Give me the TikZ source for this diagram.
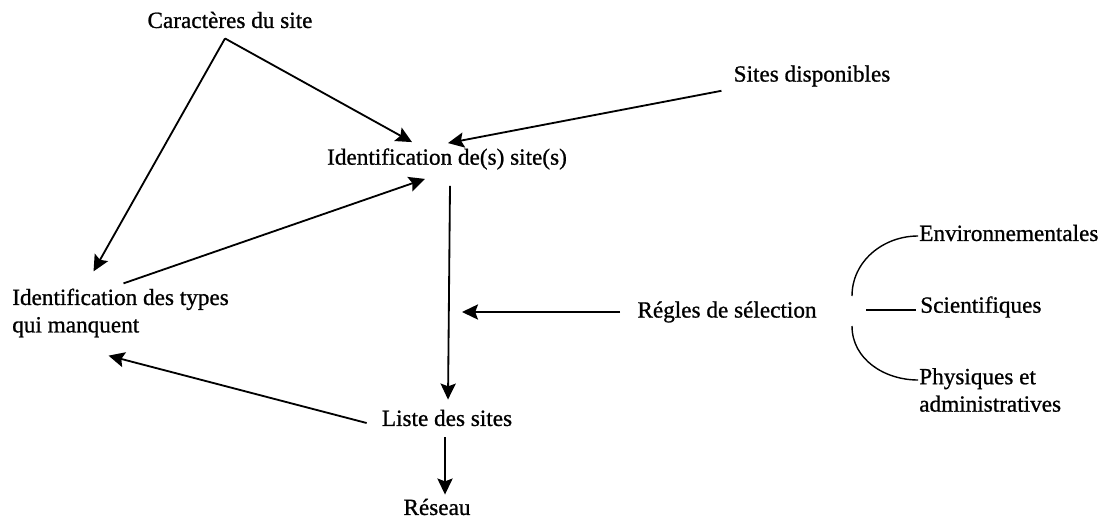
\documentclass[tikz,border=0pt]{standalone}
\usepackage{fontspec}
\setmainfont{Liberation Serif}[FakeBold=0.9]
\usepackage{tikz}
\usetikzlibrary{positioning,arrows.meta}
\tikzset{main node/.style={inner sep=0pt,font=\fontsize{16.5}{19.5}\selectfont},
flow/.style={line width=1.3pt,-{Stealth[length=4mm,width=3.8mm,inset=0.7mm]}},
brace line/.style={line width=1pt},}

\begin{document}
\begin{tikzpicture}[x=0.025cm,y=-0.025cm]
    \useasboundingbox (0,0) rectangle (1108,519);

    \node[main node] (carac) at (230,20) {Caractères du site};
    \node[main node] (site) at (447,159) {Identification de(s) site(s)};
    \node[main node] (dispo) at (812,76) {Sites disponibles};
    \node[main node,anchor=west,align=left] (types) at (12,313) {Identification des types\\qui manquent};
    \node[main node] (liste) at (447,418) {Liste des sites};
    \node[main node] (reseau) at (437,507) {Réseau};
    \node[main node] (regles) at (727,312) {Régles de sélection};
    \node[main node,anchor=west] (env) at (919,233) {Environnementales};
    \node[main node,anchor=west] (sci) at (920,307) {Scientifiques};
    \node[main node,anchor=west,align=left] (phys) at (919,390) {Physiques et\\administratives};

    \coordinate (flux) at (462,312);
    \coordinate (b1) at (852,296);
    \coordinate (b2) at (866,310);
    \coordinate (b3) at (852,326);

    \path
    ([shift={(-5,10)}]carac.south) edge[flow] ([shift={(-27,-17)}]types.north)
    ([shift={(-5,10)}]carac.south) edge[flow] ([shift={(-35,-6)}]site.north)
    ([shift={(-12,4)}]dispo.south west) edge[flow] ([shift={(1,-5)}]site.north)
    ([shift={(3,-5)}]types.north) edge[flow] ([shift={(-22,9)}]site.south)
    ([shift={(3,16)}]site.south) edge[flow] ([shift={(1,-10)}]liste.north)
    ([shift={(-17,0)}]regles.west) edge[flow] (flux)
    ([shift={(-15,5)}]liste.west) edge[flow] ([shift={(-12,18)}]types.south)
    ([shift={(-2,11)}]liste.south) edge[flow] ([shift={(8,-4)}]reseau.north)
    ;

    \path
    (b1) edge[brace line,out=90,in=180] ([shift={(-1,3)}]env.west)
    (b2) edge[brace line] ([shift={(-4,3)}]sci.west)
    (b3) edge[brace line,out=-90,in=180] ([shift={(-1,-10)}]phys.west)
    ;
\end{tikzpicture}
\end{document}
